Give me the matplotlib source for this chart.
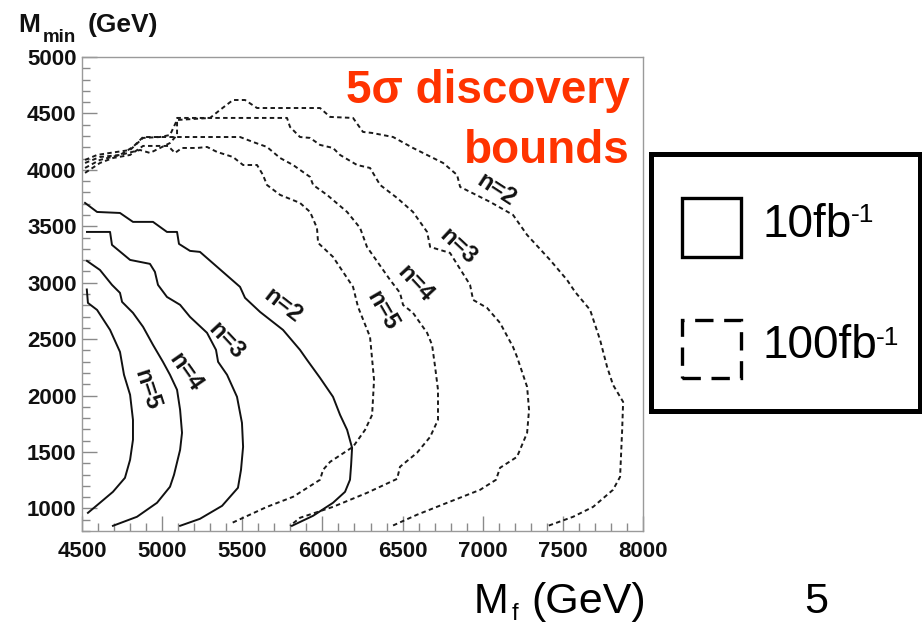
import matplotlib.pyplot as plt
from matplotlib.patches import Rectangle

plt.rcParams['font.family'] = ['Liberation Sans', 'DejaVu Sans']

W, H = 922, 628

# 5 sigma discovery contours, 10 fb^-1 (solid lines)
mf_10_n2 = [4519, 4594, 4737, 4818, 4943, 5030, 5093, 5105, 5174, 5236, 5486, 5517, 5611, 5754,
            5860, 5904, 5985, 6066, 6110, 6154, 6185, 6179, 6172, 6141, 6066, 5942, 5810]
mmin_10_n2 = [3707, 3627, 3618, 3539, 3539, 3450, 3450, 3344, 3282, 3273, 2963, 2866, 2741, 2582,
              2405, 2316, 2157, 1989, 1829, 1696, 1537, 1386, 1254, 1147, 1050, 935, 846]
mf_10_n3 = [4531, 4675, 4687, 4800, 4924, 4955, 4974, 5030, 5112, 5174, 5280, 5336, 5349, 5405,
            5467, 5498, 5505, 5492, 5473, 5374, 5236, 5112]
mmin_10_n3 = [3450, 3450, 3335, 3202, 3167, 3096, 2981, 2874, 2804, 2697, 2556, 2405, 2299, 2184,
              1989, 1758, 1546, 1342, 1183, 1023, 908, 846]
mf_10_n4 = [4531, 4612, 4687, 4737, 4750, 4818, 4881, 4943, 5005, 5049, 5093, 5112, 5124, 5112,
            5074, 5049, 4968, 4843, 4693]
mmin_10_n4 = [3193, 3113, 2981, 2910, 2830, 2733, 2609, 2449, 2299, 2184, 2051, 1874, 1670, 1519,
              1298, 1192, 1050, 926, 846]
mf_10_n5 = [4530, 4537, 4594, 4675, 4737, 4762, 4800, 4818, 4818, 4800, 4768, 4693, 4612, 4537]
mmin_10_n5 = [2940, 2821, 2759, 2582, 2387, 2184, 2007, 1785, 1608, 1431, 1271, 1147, 1050, 961]

# 100 fb^-1 (dashed lines)
mf_100_n2 = [4519, 4594, 4675, 4800, 4881, 4987, 5049, 5093, 5299, 5361, 5442, 5517, 5592, 5985,
             6048, 6191, 6253, 6310, 6441, 6565, 6753, 6840, 6859, 7046, 7189, 7277, 7420, 7526,
             7576, 7670, 7732, 7776, 7813, 7876, 7870, 7857, 7813, 7689, 7564, 7408]
mmin_100_n2 = [4088, 4132, 4150, 4176, 4283, 4291, 4309, 4442, 4460, 4531, 4619, 4619, 4548, 4548,
               4469, 4460, 4336, 4327, 4291, 4194, 4061, 3955, 3849, 3716, 3601, 3423, 3202, 3025,
               2919, 2759, 2494, 2254, 2095, 1944, 1696, 1280, 1165, 1014, 926, 846]
mf_100_n3 = [4519, 4612, 4737, 4862, 4924, 4987, 5049, 5093, 5093, 5779, 5798, 5860, 5923, 5985,
             6066, 6110, 6216, 6297, 6360, 6466, 6565, 6653, 6672, 6796, 6921, 6940, 7027, 7108,
             7189, 7214, 7277, 7289, 7277, 7214, 7108, 7083, 6984, 6778, 6590, 6422]
mmin_100_n3 = [4061, 4114, 4132, 4176, 4150, 4194, 4238, 4309, 4460, 4460, 4380, 4291, 4283, 4221,
               4194, 4132, 4043, 4017, 3866, 3751, 3627, 3450, 3317, 3264, 2981, 2848, 2777, 2644,
               2431, 2343, 2077, 1874, 1670, 1457, 1360, 1254, 1165, 1050, 944, 837]
mf_100_n4 = [4519, 4612, 4737, 4818, 4881, 5486, 5567, 5654, 5736, 5817, 5923, 5942, 6029, 6154,
             6235, 6278, 6422, 6484, 6503, 6565, 6653, 6684, 6703, 6721, 6721, 6672, 6590, 6484,
             6466, 6278, 6066, 5860, 5798]
mmin_100_n4 = [4017, 4088, 4132, 4203, 4291, 4291, 4247, 4203, 4105, 4043, 3937, 3866, 3778, 3627,
               3485, 3317, 3025, 2910, 2803, 2733, 2556, 2449, 2254, 2051, 1785, 1634, 1493, 1369,
               1262, 1138, 1014, 917, 846]
mf_100_n5 = [4519, 4612, 4693, 4800, 4881, 5037, 5080, 5124, 5218, 5280, 5342, 5442, 5505, 5592,
             5629, 5654, 5736, 5860, 5923, 5966, 5973, 6066, 6191, 6222, 6297, 6322, 6310, 6266,
             6191, 6048, 6004, 5985, 5817, 5654, 5424]
mmin_100_n5 = [3973, 4061, 4105, 4132, 4212, 4212, 4150, 4194, 4194, 4203, 4159, 4114, 4043, 4043,
               3955, 3866, 3778, 3707, 3627, 3485, 3353, 3229, 2963, 2786, 2520, 2139, 1829, 1696,
               1546, 1413, 1342, 1254, 1103, 1014, 864]

curve_labels = ['n=2', 'n=3', 'n=4', 'n=5']
label_x_10 = [5754, 5399, 5149, 4906]
label_y_10 = [2795, 2485, 2210, 2051]
label_rot_10 = [-38, -47, -55, -72]
label_x_100 = [7083, 6846, 6578, 6372]
label_y_100 = [3822, 3317, 2989, 2750]
label_rot_100 = [-33, -43, -47, -60]

x_ticks = [4500, 5000, 5500, 6000, 6500, 7000, 7500, 8000]
y_ticks = [1000, 1500, 2000, 2500, 3000, 3500, 4000, 4500, 5000]


def ftext(x, y, s, **kw):
    # text placed in pixel coordinates of the slide
    return fig.text(x / W, 1 - y / H, s, va='baseline', **kw)


fig = plt.figure(figsize=(W / 100, H / 100), dpi=100)
ax = fig.add_axes([82 / W, 1 - 531 / H, (643 - 82) / W, (531 - 57) / H])

solid = dict(color='#111111', lw=1.4, ls='-')
dashed = dict(color='#1a1a1a', lw=1.4, ls=(0, (2.3, 1.7)))

ax.plot(mf_10_n2, mmin_10_n2, **solid)
ax.plot(mf_10_n3, mmin_10_n3, **solid)
ax.plot(mf_10_n4, mmin_10_n4, **solid)
ax.plot(mf_10_n5, mmin_10_n5, **solid)
ax.plot(mf_100_n2, mmin_100_n2, **dashed)
ax.plot(mf_100_n3, mmin_100_n3, **dashed)
ax.plot(mf_100_n4, mmin_100_n4, **dashed)
ax.plot(mf_100_n5, mmin_100_n5, **dashed)

for i in range(4):
    ax.text(label_x_10[i], label_y_10[i], curve_labels[i], rotation=label_rot_10[i],
            ha='center', va='center', fontsize=17, fontweight='bold', color='#111111',
            rotation_mode='anchor')
    ax.text(label_x_100[i], label_y_100[i], curve_labels[i], rotation=label_rot_100[i],
            ha='center', va='center', fontsize=17, fontweight='bold', color='#111111',
            rotation_mode='anchor')

ax.set_xlim(4500, 8000)
ax.set_ylim(800, 5000)
ax.set_xticks(x_ticks)
ax.set_yticks(y_ticks)
ax.set_xticks(range(4500, 8001, 100), minor=True)
ax.set_yticks(range(800, 5001, 100), minor=True)
ax.tick_params(which='both', direction='in', color='#8a8a8a', width=1.0, top=False, right=False)
ax.tick_params(which='major', length=11)
ax.tick_params(which='minor', length=6)
ax.tick_params(axis='x', labelsize=16, pad=7)
ax.tick_params(axis='y', labelsize=16, pad=4)
for lab in ax.get_xticklabels() + ax.get_yticklabels():
    lab.set_fontweight('bold')
    lab.set_color('#111111')
for sp in ax.spines.values():
    sp.set_color('#9a9a9a')
    sp.set_linewidth(1.0)

# axis titles
ftext(18, 32, 'M', fontsize=19, fontweight='bold', color='#111111')
ftext(43, 42, 'min', fontsize=13.5, fontweight='bold', color='#111111')
ftext(88, 32, '(GeV)', fontsize=19, fontweight='bold', color='#111111')

ftext(474, 613, 'M', fontsize=30)
ftext(512, 620, 'f', fontsize=17)
ftext(531, 613, '(GeV)', fontsize=31)
ftext(804, 613, '5', fontsize=31)

# red annotation
ftext(630, 103, '5σ discovery', fontsize=33, fontweight='bold', color='#ff3300', ha='right')
ftext(630, 163, 'bounds', fontsize=33, fontweight='bold', color='#ff3300', ha='right')

# legend box
def frect(x0, y0, x1, y1, **kw):
    r = Rectangle((x0 / W, 1 - y1 / H), (x1 - x0) / W, (y1 - y0) / H,
                  transform=fig.transFigure, fill=False, **kw)
    fig.add_artist(r)

frect(651, 154, 920, 411, lw=3.6, edgecolor='black')
frect(682, 198, 741, 257, lw=2.4, edgecolor='black')
frect(682, 320, 741, 378, lw=2.4, edgecolor='black', ls=(0, (5.5, 3.2)))
ftext(763, 237, '10fb', fontsize=33)
ftext(851, 222, '-1', fontsize=19)
ftext(763, 358, '100fb', fontsize=33)
ftext(876, 345, '-1', fontsize=19)

fig.savefig('out.png', dpi=100)
